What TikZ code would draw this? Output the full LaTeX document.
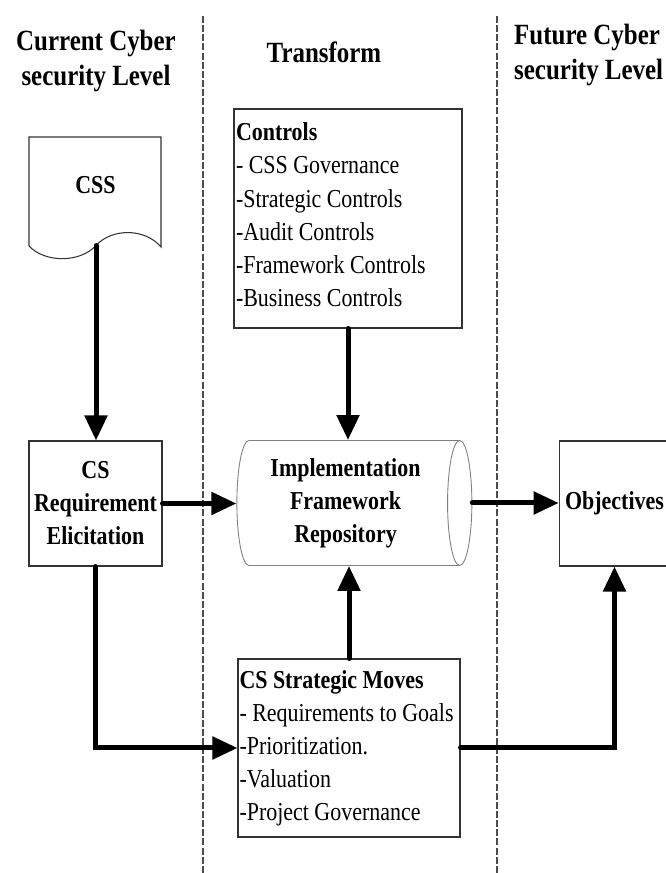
\documentclass[tikz,border=0pt]{standalone}
\usepackage{fontspec}
\setmainfont{Liberation Serif}[FakeStretch=0.85]
\usetikzlibrary{shapes, arrows.meta, positioning}
\tikzstyle{line} = [draw, line width=0.1cm, line cap=round, -{Triangle[length=0.5cm,width=0.44cm]}]
\tikzstyle{box} = [draw=black!80, line width=0.6pt, rectangle]
\tikzstyle{sep} = [draw=black!70, line width=0.6pt, dash pattern=on 4pt off 1.2pt]
\tikzset{
  txt/.style={font=\fontsize{14.7}{18.8}\selectfont},
  boldtxt/.style={font=\fontsize{14.7}{18.8}\selectfont\bfseries},
  head/.style={font=\fontsize{16.7}{19.4}\selectfont\bfseries, align=center}
}

\begin{document}
\begin{tikzpicture}
\useasboundingbox (0,0) rectangle (13.3,17.46);

%Column separators
\draw [sep] (4.06,17.14) -- (4.06,0);
\draw [sep] (9.94,17.14) -- (9.94,0);

%Column titles
\node (curtitle) [head] at (1.92,16.24) {Current Cyber\\security Level};
\node (trtitle) [head] at (6.48,16.42) {Transform};
\node (futtitle) [head, align=left, anchor=west] at (10.16,16.36) {Future Cyber\\security Level};

%CSS document
\draw [box] (0.58,14.72) -- (3.22,14.72) -- (3.22,12.52)
  .. controls (2.9,12.9) and (2.24,12.9) .. (1.92,12.55)
  .. controls (1.6,12.2) and (0.9,12.2) .. (0.58,12.54) -- cycle;
\node (css) [boldtxt] at (1.91,13.76) {CSS};
\coordinate (cssout) at (1.92,12.55);

%Boxes
\node (elicit) [box, boldtxt, minimum width=2.66cm, minimum height=2.5cm, text width=2.6cm, align=center, inner sep=0.03cm] at (1.91,7.39) {CS\\Requirement\\Elicitation};
\node (repo) [cylinder, draw=gray, line width=0.5pt, aspect=0.24, minimum height=4.7cm, minimum width=2.5cm, align=center, boldtxt] at (6.91,7.4) {Implementation\\Framework\\Repository};
\node (goals) [box, boldtxt, minimum width=2.1cm, minimum height=2.5cm] at (12.29,7.39) {Objectives};
\node (controls) [box, txt, minimum width=4.56cm, minimum height=4.38cm, text width=4.48cm, text depth=3.46cm, align=flush left, inner xsep=0.04cm] at (6.96,13.09) {\textbf{Controls}\\- CSS Governance\\-Strategic Controls\\-Audit Controls\\-Framework Controls\\-Business Controls};
\node (moves) [box, txt, minimum width=4.44cm, minimum height=3.56cm, text width=4.38cm, align=flush left, inner xsep=0.03cm] at (6.98,2.5) {\textbf{CS Strategic Moves}\\- Requirements to Goals\\-Prioritization.\\-Valuation\\-Project Governance};

%Arrows
\draw [line] (cssout) -- (cssout |- elicit.north);
\draw [line] (elicit.east) -- (elicit.east -| repo.west);
\draw [line] (repo.east) -- (repo.east -| goals.west);
\draw [line] (controls.south) -- (controls.south |- repo.north);
\draw [line] (moves.north) -- (moves.north |- repo.south);
\draw [line] (elicit.south) |- (moves.west);
\draw [line] (moves.east) -| (goals.south);

\end{tikzpicture}
\end{document}
